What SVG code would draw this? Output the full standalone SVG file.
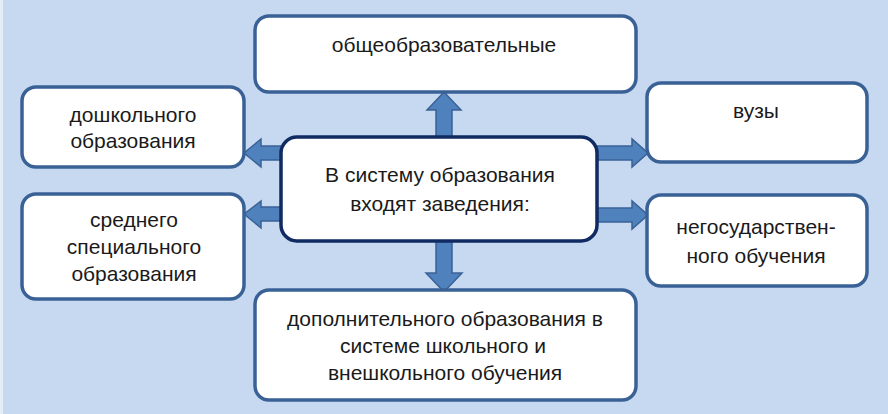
<svg xmlns="http://www.w3.org/2000/svg" width="888" height="414" viewBox="0 0 888 414">
<style>
.box{fill:#fff;stroke:#3A6196;stroke-width:3.5}
.center{fill:#fff;stroke:#102A62;stroke-width:3.5}
.arr{fill:#4F81BD;stroke:#3A6196;stroke-width:1.5}
text{font-family:"Liberation Sans",Arial,sans-serif;font-size:21px;fill:#1a1a1a;text-anchor:middle}
</style>
<rect x="0" y="0" width="888" height="414" fill="#C6D9F0"/>
<rect x="0" y="0" width="3" height="414" fill="#E4ECF7"/>
<g id="connectors">
<path class="arr" d="M436,138 V110 H427 L444,92 L461,110 H452 V138 Z"/>
<path class="arr" d="M436,240 V273 H426 L444,292 L462,273 H452 V240 Z"/>
<path class="arr" d="M283,146 H261 V139 L244,153 L261,167 V160 H283 Z"/>
<path class="arr" d="M283,207 H261 V201 L244,214 L261,228 V221 H283 Z"/>
<path class="arr" d="M596,146 H632 V139 L648,153 L632,167 V160 H596 Z"/>
<path class="arr" d="M596,208 H632 V201 L648,215 L632,229 V222 H596 Z"/>
</g>
<g id="top">
<rect class="box" x="255" y="16" width="381" height="76" rx="14"/>
<text x="444" y="52">общеобразовательные</text>
</g>
<g id="left-top">
<rect class="box" x="22" y="87" width="222" height="80" rx="14"/>
<text x="133" y="122">дошкольного</text>
<text x="133" y="148">образования</text>
</g>
<g id="left-bottom">
<rect class="box" x="22" y="194" width="222" height="105" rx="14"/>
<text x="134" y="227">среднего</text>
<text x="134" y="254">специального</text>
<text x="134" y="281">образования</text>
</g>
<g id="right-top">
<rect class="box" x="647" y="83" width="220" height="79" rx="14"/>
<text x="756" y="118">вузы</text>
</g>
<g id="right-bottom">
<rect class="box" x="647" y="195" width="220" height="91" rx="14"/>
<text x="756" y="234">негосударствен-</text>
<text x="756" y="263">ного обучения</text>
</g>
<g id="center">
<rect class="center" x="281" y="137" width="316" height="104" rx="16"/>
<text x="440" y="182">В систему образования</text>
<text x="440" y="211">входят заведения:</text>
</g>
<g id="bottom">
<rect class="box" x="255" y="290" width="381" height="110" rx="14"/>
<text x="445" y="326">дополнительного образования в</text>
<text x="443" y="353">системе школьного и</text>
<text x="445" y="380">внешкольного обучения</text>
</g>
</svg>
